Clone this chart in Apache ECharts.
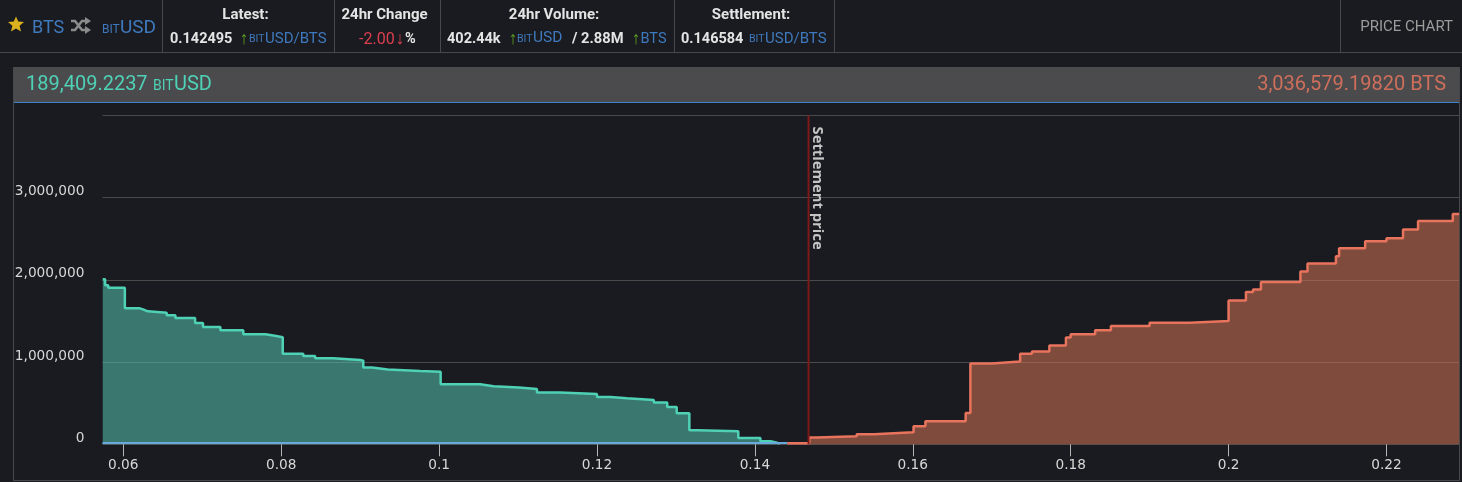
<!DOCTYPE html>
<html>
<head>
<meta charset="utf-8">
<style>
html,body{margin:0;padding:0;background:#1a1b20;overflow:hidden}
#chart{width:1462px;height:482px}
</style>
<script src="https://cdn.jsdelivr.net/npm/echarts@6/dist/echarts.min.js"></script>
</head>
<body>
<div id="chart"></div>
<script>
// Price levels where the cumulative depth changes
const bidPrices = [0.0574,0.0577,0.0581,0.0602,0.0621,0.0625,0.0631,0.0655,0.0666,0.0691,0.0701,0.0723,0.0752,0.0780,0.0792,0.0802,0.0828,0.0843,0.0866,0.0900,0.0904,0.0915,0.0935,0.0976,0.1002,0.1052,0.1069,0.1101,0.1124,0.1153,0.1200,0.1217,0.1238,0.1272,0.1289,0.1301,0.1317,0.1327,0.1379,0.1407,0.1420,0.1429,0.1432];
const bidDepth = [2007000,1934000,1904000,1654000,1642000,1618000,1600000,1569000,1536000,1476000,1427000,1387000,1338000,1320000,1302000,1103000,1074000,1046000,1026000,1018000,933000,909000,892000,884000,730000,706000,690000,673000,629000,612000,575000,560000,539000,507000,454000,377000,170000,158000,77000,36000,16000,12000,12000];
const askPrices = [0.1441,0.1469,0.1479,0.1529,0.1551,0.1601,0.1616,0.1667,0.1673,0.1700,0.1736,0.1751,0.1773,0.1794,0.1800,0.1831,0.1851,0.1900,0.1951,0.2000,0.2022,0.2031,0.2041,0.2091,0.2100,0.2136,0.2140,0.2173,0.2200,0.2221,0.2240,0.2284,0.2292];
const askDepth = [12000,82000,97000,122000,146000,219000,280000,381000,982000,1006000,1103000,1128000,1201000,1298000,1338000,1387000,1439000,1480000,1500000,1748000,1853000,1882000,1974000,2101000,2198000,2287000,2384000,2469000,2506000,2612000,2716000,2802000,2802000];
const settlementPrice = 0.1468;
const xTicks = [0.06,0.08,0.10,0.12,0.14,0.16,0.18,0.20,0.22];
const yLabels = [0,1000000,2000000,3000000];
const xMin = 0.05737, xMax = 0.22925;

const C = {bg:'#1a1b20',line:'#47484c',white:'#e4e4e4',blue:'#3f79bd',green:'#5fa01e',red:'#dc3f4f',gray:'#9c9c9c',
  bid:'#4fd1b6',bidFill:'rgba(84,194,176,0.55)',ask:'#e8745e',askFill:'rgba(210,114,85,0.55)',bar:'#4b4b4d',barBlue:'#3c82c8'};
const R = 'Roboto';
function t(x,y,text,size,fill,weight,align){
  return {type:'text',x:x,y:y,silent:true,z:20,style:{text:text,font:(weight||400)+' '+size+'px '+R,fill:fill,align:align||'left',verticalAlign:'middle'}};
}
function rect(x,y,w,h,fill,z){return {type:'rect',silent:true,z:z||1,shape:{x:x,y:y,width:w,height:h},style:{fill:fill}};}
function pl(points){return {type:'polyline',silent:true,z:20,shape:{points:points},style:{stroke:'#8b8b8b',lineWidth:2.6,fill:null}};}
function pg(points){return {type:'polygon',silent:true,z:20,shape:{points:points},style:{fill:'#8b8b8b'}};}

const graphics = [
  // header rules
  rect(0,52,1462,1,C.line),
  rect(162,0,1,52,C.line),rect(334,0,1,52,C.line),rect(440,0,1,52,C.line),rect(674,0,1,52,C.line),rect(834,0,1,52,C.line),rect(1340,0,1,52,C.line),
  // chart frame
  rect(13,67,1,413,C.line),rect(13,480,1447,1,C.line),rect(1459,67,1,413,C.line),
  rect(14,67,1445,35,C.bar),rect(14,102,1445,1,C.barBlue),
  // market title
  {type:'polygon',silent:true,z:20,shape:{points:[[16,18],[18.2,23],[24,23.6],[19.6,27.2],[21,33],[16,30],[11,33],[12.4,27.2],[8,23.6],[13.8,23]].map(p=>[p[0],p[1]-1.5])},style:{fill:'#dcb01e'}},
  t(32,28,'BTS',18,C.blue),
  pl([[71,21],[75,21],[82,30],[86,30]]),pl([[71,30],[75,30],[82,21],[86,21]]),
  pg([[85,17],[91,21],[85,25]]),pg([[85,26],[91,30],[85,34]]),
  t(102,29.5,'BIT',12,C.blue),t(120,28,'USD',19,C.blue),
  // latest
  t(245.5,15.5,'Latest:',15,C.white,700,'center'),
  t(170,39.5,'0.142495',14.5,C.white,700),
  t(244,39.5,'\u2191',18,C.green,400,'center'),t(249,39.5,'BIT',10.5,C.blue),t(265,39,'USD/BTS',15,C.blue),
  // change
  t(384.5,15.5,'24hr Change',15,C.white,700,'center'),
  t(359,39.5,'-2.00',16,C.red),t(400,39.5,'\u2193',18,C.red,400,'center'),t(405,39.5,'%',14.5,C.white,700),
  // volume
  t(554,15.5,'24hr Volume:',15,C.white,700,'center'),
  t(447,39.5,'402.44k',14.5,C.white,700),
  t(513,39.5,'\u2191',18,C.green,400,'center'),t(517,39.5,'BIT',10.5,C.blue),t(533,38.5,'USD',15.5,C.blue),
  t(572,39.5,'/ 2.88M',14.7,C.white,700),
  t(636,39.5,'\u2191',18,C.green,400,'center'),t(640.5,39,'BTS',14.5,C.blue),
  // settlement
  t(751,15.5,'Settlement:',15,C.white,700,'center'),
  t(681,39.5,'0.146584',14.5,C.white,700),
  t(749,39.5,'BIT',10.5,C.blue),t(765,39,'USD/BTS',15,C.blue),
  // price chart
  t(1453,27.5,'PRICE CHART',15,C.gray,400,'right'),
  // totals
  t(26,85,'189,409.2237',20,C.bid),t(153,86,'BIT',14,C.bid),t(174,84.5,'USD',20,C.bid),
  t(1446,85,'3,036,579.19820 BTS',20,'#cf6f5b',400,'right')
];

const chart = echarts.init(document.getElementById('chart'));
chart.setOption({
  backgroundColor:C.bg,
  animation:false,
  graphic:graphics,
  grid:{left:102.5,right:2.5,top:115.5,bottom:37.7,containLabel:false},
  xAxis:{type:'value',min:xMin,max:xMax,
    axisLine:{show:false},splitLine:{show:false},
    axisTick:{show:true,length:12,lineStyle:{color:'#b5b5b5',width:1},customValues:xTicks},
    axisLabel:{color:'#d8d8d8',fontFamily:'DejaVu Sans',fontSize:13.7,margin:14,customValues:xTicks,formatter:v=>String(+v.toFixed(2))}},
  yAxis:{type:'value',min:0,max:4000000,interval:1000000,
    axisLine:{show:false},axisTick:{show:false},
    splitLine:{show:true,lineStyle:{color:'#4a4a4a',width:1}},
    axisLabel:{color:'#d8d8d8',fontFamily:'DejaVu Sans',fontSize:13.7,margin:18,verticalAlign:'bottom',padding:[0,0,-1,0],customValues:yLabels,
      formatter:v=>v.toLocaleString('en-US')}},
  series:[
    {type:'line',name:'Bids',step:'end',data:bidPrices.map((p,i)=>[p,bidDepth[i]]),symbol:'none',silent:true,z:5,
      lineStyle:{color:C.bid,width:2.5},areaStyle:{color:C.bidFill,opacity:1}},
    {type:'line',name:'Asks',step:'end',data:askPrices.map((p,i)=>[p,askDepth[i]]),symbol:'none',silent:true,z:5,
      lineStyle:{color:C.ask,width:2.5},areaStyle:{color:C.askFill,opacity:1}},
    {type:'line',name:'Base',data:[[xMin,15000],[0.1441,15000]],symbol:'none',silent:true,z:7,lineStyle:{color:'#6aa9dd',width:2}},
    {type:'line',name:'Settlement',data:[[settlementPrice,0],[settlementPrice,4000000]],symbol:'none',silent:true,z:6,
      lineStyle:{color:'#7c1a1a',width:2}},
    {type:'scatter',name:'Settlement label',data:[[settlementPrice,4000000]],symbolSize:0,silent:true,z:7,
      label:{show:true,formatter:'Settlement price',position:'inside',rotate:-90,align:'left',verticalAlign:'middle',offset:[11,-9],
        color:'#f0f0f0',fontFamily:'Open Sans',fontWeight:700,fontSize:14.8}}
  ]
});
</script>
</body>
</html>
